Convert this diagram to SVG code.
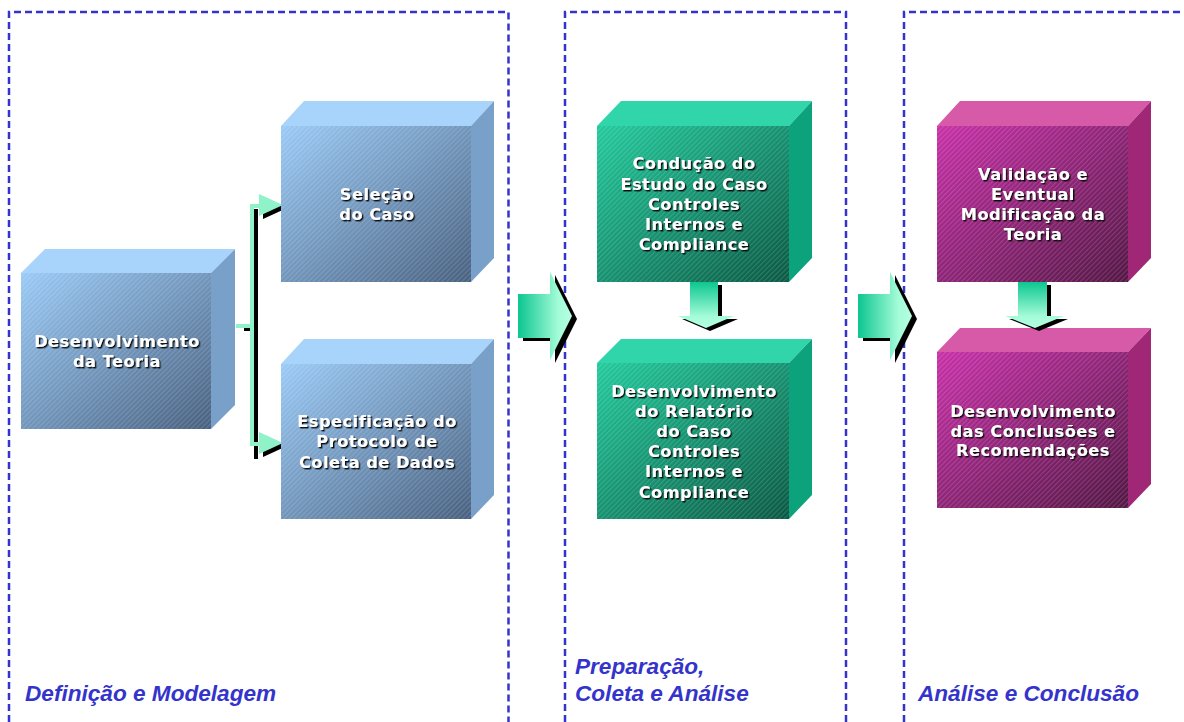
<svg xmlns="http://www.w3.org/2000/svg" width="1184" height="722" viewBox="0 0 1184 722">
  <defs>
    <style>
      .panel { fill: none; stroke: #3434cc; stroke-width: 2.5; stroke-dasharray: 7 4; }
      .phase { font-family: "Liberation Sans", Arial, sans-serif; font-weight: bold; font-style: italic; font-size: 22.6px; fill: #3434cc; }
      .lbl { font-family: "DejaVu Sans", Verdana, sans-serif; font-weight: bold; font-size: 16.2px; fill: #ffffff; text-anchor: middle; letter-spacing: 0.5px; filter: url(#emboss); }
      .hatch { fill: url(#hatch); }
      .bl-top { fill: #a8d4fc; } .bl-side { fill: #78a0c8; } .bl-front { fill: url(#gBlue); }
      .gr-top { fill: #30d6aa; } .gr-side { fill: #0ca37c; } .gr-front { fill: url(#gGreen); }
      .mg-top { fill: #d65aa8; } .mg-side { fill: #a02676; } .mg-front { fill: url(#gMag); }
      .shadow { fill: #000; }
      .brk { fill: none; stroke: #90f2c8; stroke-width: 4; }
      .brk-s { fill: none; stroke: #000; stroke-width: 4; }
    </style>
    <linearGradient id="gBlue" x1="0" y1="0" x2="1" y2="1">
      <stop offset="0" stop-color="#9acaf6"/>
      <stop offset="1" stop-color="#48607f"/>
    </linearGradient>
    <linearGradient id="gGreen" x1="0" y1="0" x2="1" y2="1">
      <stop offset="0" stop-color="#22ca9c"/>
      <stop offset="1" stop-color="#095843"/>
    </linearGradient>
    <linearGradient id="gMag" x1="0" y1="0" x2="1" y2="1">
      <stop offset="0" stop-color="#c830a8"/>
      <stop offset="1" stop-color="#531644"/>
    </linearGradient>
    <linearGradient id="gArrowH" x1="0" y1="0" x2="1" y2="0">
      <stop offset="0" stop-color="#0cc690"/>
      <stop offset="0.75" stop-color="#a4fcd8"/>
      <stop offset="1" stop-color="#b4ffe2"/>
    </linearGradient>
    <linearGradient id="gArrowV" x1="0" y1="0" x2="0" y2="1">
      <stop offset="0" stop-color="#0cc690"/>
      <stop offset="0.75" stop-color="#a4fcd8"/>
      <stop offset="1" stop-color="#b4ffe2"/>
    </linearGradient>
    <pattern id="hatch" width="3.5" height="3.5" patternUnits="userSpaceOnUse" patternTransform="rotate(-45)">
      <rect width="3.5" height="1.2" fill="#ffffff" fill-opacity="0.15"/>
    </pattern>
    <filter id="emboss" x="-10%" y="-30%" width="120%" height="160%">
      <feDropShadow dx="1.4" dy="1.4" stdDeviation="0.5" flood-color="#101010" flood-opacity="1"/>
    </filter>
  </defs>

  <rect width="1184" height="722" fill="#ffffff"/>

  <!-- phase panels -->
  <g id="panels">
    <path class="panel" d="M9 722 V12 H508.5 V722"/>
    <path class="panel" d="M565 722 V12 H846 V722"/>
    <path class="panel" d="M904 722 V12 H1184"/>
  </g>

  <!-- connectors -->
  <g id="connectors">
    <!-- bracket from theory box to the two case boxes (shadow, then highlight) -->
    <g transform="translate(4,3)">
      <path class="brk-s" d="M240 326 H250 M252 206 V456"/>
      <polygon class="shadow" points="259,194 283,205 259,216"/>
      <polygon class="shadow" points="259,432 283,443 259,454"/>
    </g>
    <path class="brk" d="M236 326 H252 M252 204 V446 M250 206 H262 M250 444 H262"/>
    <polygon fill="#90f2c8" points="259,194 283,205 259,216"/>
    <polygon fill="#90f2c8" points="259,432 283,443 259,454"/>

    <!-- phase arrow 1 -->
    <polygon class="shadow" transform="translate(5,3)" points="518,294 550,294 550,272 572,316 550,360 550,338 518,338"/>
    <polygon fill="url(#gArrowH)" points="518,294 550,294 550,272 572,316 550,360 550,338 518,338"/>
    <!-- phase arrow 2 -->
    <polygon class="shadow" transform="translate(5,3)" points="858,294 890,294 890,272 912,316 890,360 890,338 858,338"/>
    <polygon fill="url(#gArrowH)" points="858,294 890,294 890,272 912,316 890,360 890,338 858,338"/>
  </g>

  <!-- Definição e Modelagem -->
  <g id="node-teoria">
    <polygon class="bl-top" points="21,273 45,249 235,249 211,273"/>
    <polygon class="bl-side" points="211,273 235,249 235,405 211,429"/>
    <rect class="bl-front" x="21" y="273" width="190" height="156"/>
    <rect class="hatch" x="21" y="273" width="190" height="156"/>
    <text class="lbl" x="117" y="347">Desenvolvimento</text>
    <text class="lbl" x="117" y="367">da Teoria</text>
  </g>

  <g id="node-selecao">
    <polygon class="bl-top" points="281,126 304,101 494,101 471,126"/>
    <polygon class="bl-side" points="471,126 494,101 494,258 471,282"/>
    <rect class="bl-front" x="281" y="126" width="190" height="156"/>
    <rect class="hatch" x="281" y="126" width="190" height="156"/>
    <text class="lbl" x="377" y="200">Seleção</text>
    <text class="lbl" x="377" y="220">do Caso</text>
  </g>

  <g id="node-protocolo">
    <polygon class="bl-top" points="281,364 304,339 494,339 471,364"/>
    <polygon class="bl-side" points="471,364 494,339 494,495 471,519"/>
    <rect class="bl-front" x="281" y="364" width="190" height="155"/>
    <rect class="hatch" x="281" y="364" width="190" height="155"/>
    <text class="lbl" x="377" y="427">Especificação do</text>
    <text class="lbl" x="377" y="447">Protocolo de</text>
    <text class="lbl" x="377" y="468">Coleta de Dados</text>
  </g>

  <!-- Preparação, Coleta e Análise -->
  <g id="node-conducao">
    <polygon class="gr-top" points="597,126 621,101 812,101 789,126"/>
    <polygon class="gr-side" points="789,126 812,101 812,258 789,282"/>
    <rect class="gr-front" x="597" y="126" width="192" height="156"/>
    <rect class="hatch" x="597" y="126" width="192" height="156"/>
    <text class="lbl" x="694" y="169">Condução do</text>
    <text class="lbl" x="694" y="190">Estudo do Caso</text>
    <text class="lbl" x="694" y="210">Controles</text>
    <text class="lbl" x="694" y="230">Internos e</text>
    <text class="lbl" x="694" y="250">Compliance</text>
  </g>

  <g id="node-relatorio">
    <polygon class="gr-top" points="597,363 621,339 812,339 789,363"/>
    <polygon class="gr-side" points="789,363 812,339 812,495 789,519"/>
    <rect class="gr-front" x="597" y="363" width="192" height="156"/>
    <rect class="hatch" x="597" y="363" width="192" height="156"/>
    <text class="lbl" x="694" y="397">Desenvolvimento</text>
    <text class="lbl" x="694" y="417">do Relatório</text>
    <text class="lbl" x="694" y="437">do Caso</text>
    <text class="lbl" x="694" y="457">Controles</text>
    <text class="lbl" x="694" y="477">Internos e</text>
    <text class="lbl" x="694" y="498">Compliance</text>
  </g>

  <!-- Análise e Conclusão -->
  <g id="node-validacao">
    <polygon class="mg-top" points="937,126 960,101 1151,101 1128,126"/>
    <polygon class="mg-side" points="1128,126 1151,101 1151,258 1128,282"/>
    <rect class="mg-front" x="937" y="126" width="191" height="156"/>
    <rect class="hatch" x="937" y="126" width="191" height="156"/>
    <text class="lbl" x="1033" y="180">Validação e</text>
    <text class="lbl" x="1033" y="200">Eventual</text>
    <text class="lbl" x="1033" y="220">Modificação da</text>
    <text class="lbl" x="1033" y="240">Teoria</text>
  </g>

  <g id="node-conclusoes">
    <polygon class="mg-top" points="937,352 960,328 1151,328 1128,352"/>
    <polygon class="mg-side" points="1128,352 1151,328 1151,484 1128,508"/>
    <rect class="mg-front" x="937" y="352" width="191" height="156"/>
    <rect class="hatch" x="937" y="352" width="191" height="156"/>
    <text class="lbl" x="1033" y="417">Desenvolvimento</text>
    <text class="lbl" x="1033" y="437">das Conclusões e</text>
    <text class="lbl" x="1033" y="456">Recomendações</text>
  </g>

  <!-- downward step arrows inside the panels -->
  <g id="step-arrows">
    <polygon class="shadow" transform="translate(4,3)" points="690,282 718,282 718,316 734,316 706,328 678,316 690,316"/>
    <polygon fill="url(#gArrowV)" points="690,282 718,282 718,316 734,316 706,328 678,316 690,316"/>
    <polygon class="shadow" transform="translate(4,3)" points="1018,282 1047,282 1047,316 1064,316 1035,328 1005,316 1018,316"/>
    <polygon fill="url(#gArrowV)" points="1018,282 1047,282 1047,316 1064,316 1035,328 1005,316 1018,316"/>
  </g>

  <!-- phase titles -->
  <g id="phase-titles">
    <text class="phase" x="25" y="701">Definição e Modelagem</text>
    <text class="phase" x="575" y="674">Preparação,</text>
    <text class="phase" x="575" y="701">Coleta e Análise</text>
    <text class="phase" x="918" y="701">Análise e Conclusão</text>
  </g>
</svg>
